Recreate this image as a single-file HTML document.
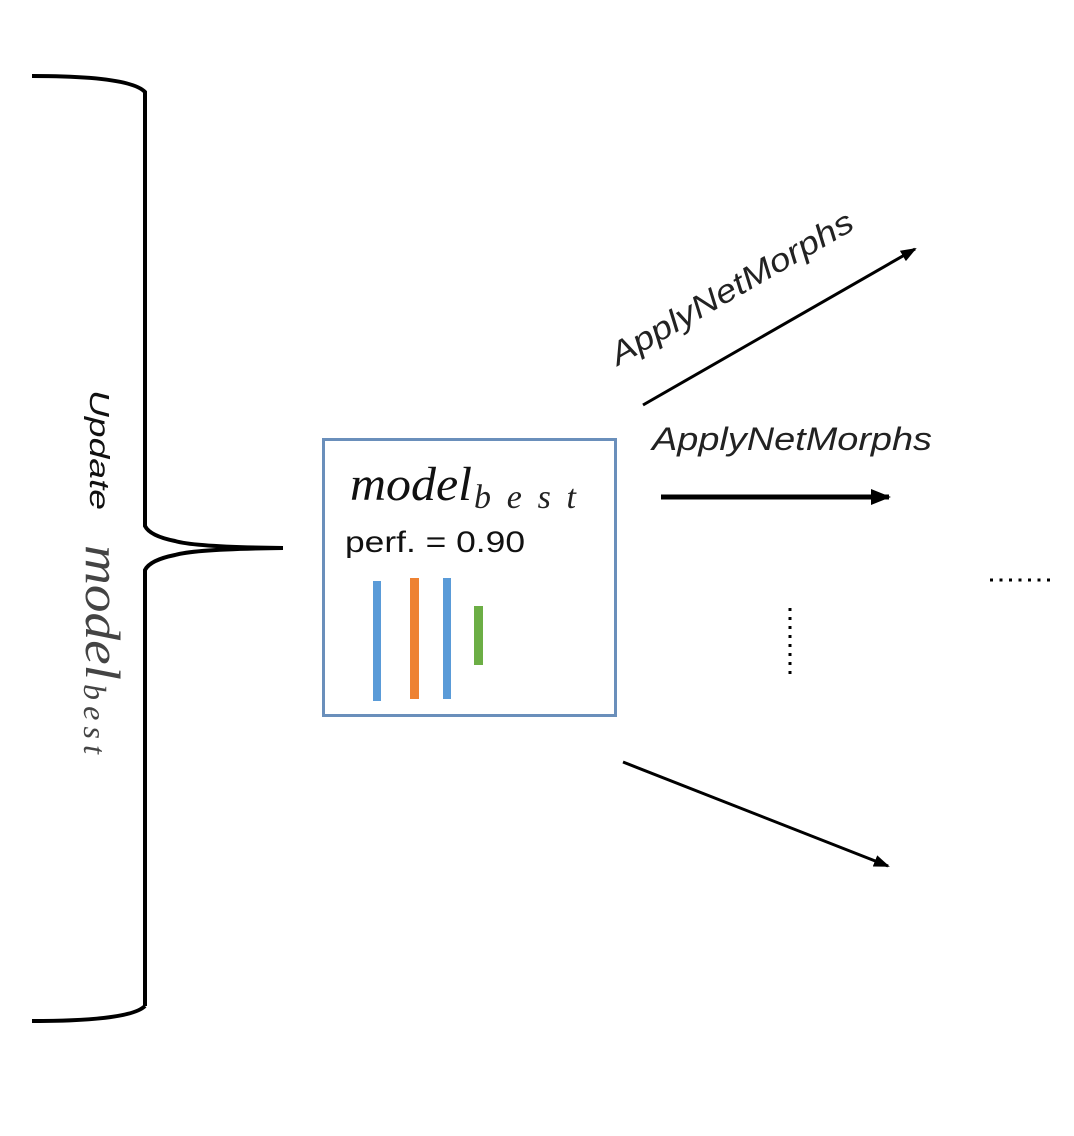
<!DOCTYPE html>
<html><head><meta charset="utf-8"><style>
html,body{margin:0;padding:0;background:#fff;}
svg{display:block;}
</style></head><body>
<svg width="1074" height="1136" viewBox="0 0 1074 1136" xmlns="http://www.w3.org/2000/svg">
<defs>
<marker id="ah" markerWidth="16" markerHeight="12" refX="14" refY="6" orient="auto" markerUnits="userSpaceOnUse">
<path d="M0,0 L16,6 L0,12 z" fill="#000"/>
</marker>
<marker id="ah2" markerWidth="20" markerHeight="16" refX="18" refY="8" orient="auto" markerUnits="userSpaceOnUse">
<path d="M0,0 L20,8 L0,16 z" fill="#000"/>
</marker>
</defs>
<!-- brace -->
<path d="M32,76 Q130,76 145,92 L145,526 Q150,536 175,541 Q195,547 283,548 M145,1006 L145,570 Q150,560 175,555 Q195,549 283,548 M32,1021 Q130,1021 145,1006" fill="none" stroke="#000" stroke-width="4"/>
<text transform="translate(90,390) rotate(90)" font-family="Liberation Sans, sans-serif" font-style="italic" font-size="28" textLength="120" lengthAdjust="spacingAndGlyphs" fill="#111">Update</text>
<text transform="translate(86,545) rotate(90)" font-family="Liberation Serif, serif" font-style="italic" font-size="50" fill="#444" textLength="135" lengthAdjust="spacingAndGlyphs">model</text>
<text transform="translate(84,684) rotate(90)" font-family="Liberation Serif, serif" font-style="italic" font-size="32" fill="#444" textLength="70">best</text>
<!-- box -->
<rect x="323.5" y="439.5" width="292" height="276" fill="#fff" stroke="#6a8fbb" stroke-width="3"/>
<text x="350" y="500" font-family="Liberation Serif, serif" font-style="italic" font-size="48" fill="#111" textLength="122" lengthAdjust="spacingAndGlyphs">model</text>
<text x="474" y="508" font-family="Liberation Serif, serif" font-style="italic" font-size="34" fill="#222" textLength="102">best</text>
<text x="345" y="552" font-family="Liberation Sans, sans-serif" font-size="30" fill="#111" textLength="180" lengthAdjust="spacingAndGlyphs">perf. = 0.90</text>
<rect x="373" y="581" width="8" height="120" fill="#5a9bd8"/>
<rect x="410" y="578" width="9" height="121" fill="#ee8232"/>
<rect x="443" y="578" width="8" height="121" fill="#5a9bd8"/>
<rect x="474" y="606" width="9" height="59" fill="#6cae45"/>
<!-- arrows -->
<line x1="643" y1="405" x2="915" y2="249" stroke="#000" stroke-width="3" marker-end="url(#ah)"/>
<line x1="661" y1="497" x2="889" y2="497" stroke="#000" stroke-width="5" marker-end="url(#ah2)"/>
<line x1="623" y1="762" x2="888" y2="866" stroke="#000" stroke-width="3" marker-end="url(#ah)"/>
<text transform="translate(618,366) rotate(-30)" font-family="Liberation Sans, sans-serif" font-style="italic" font-size="32" fill="#222" textLength="275" lengthAdjust="spacingAndGlyphs">ApplyNetMorphs</text>
<text x="652" y="450" font-family="Liberation Sans, sans-serif" font-style="italic" font-size="32" fill="#222" textLength="280" lengthAdjust="spacingAndGlyphs">ApplyNetMorphs</text>
<!-- dots -->
<line x1="790" y1="608" x2="790" y2="674" stroke="#000" stroke-width="3" stroke-dasharray="3,6"/>
<line x1="990" y1="580" x2="1056" y2="580" stroke="#000" stroke-width="3" stroke-dasharray="3,6.5"/>
</svg>
</body></html>
